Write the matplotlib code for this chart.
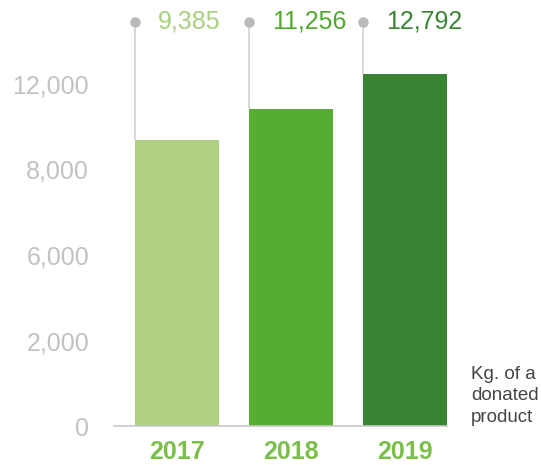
import numpy as np
import matplotlib
matplotlib.use("Agg")
import matplotlib.pyplot as plt

plt.rcParams['font.family'] = ['Liberation Sans', 'DejaVu Sans']

# data
years = ["2017", "2018", "2019"]
values = [9385, 11256, 12792]
value_labels = ["9,385", "11,256", "12,792"]
# bar heights in axis "levels" (one level = one gridstep as drawn)
bar_levels = [3.345, 3.71, 4.12]
tick_levels = [0, 1, 2, 3, 4]
tick_labels = ["0", "2,000", "6,000", "8,000", "12,000"]
bar_colors = ["#b0d084", "#56ad30", "#398434"]
label_colors = ["#a9cf80", "#4faa2e", "#3a8535"]

step = 85.5  # px per level
fig = plt.figure(figsize=(5.41, 4.65), dpi=100)
ax = fig.add_axes([114 / 541, 39 / 465, 333 / 541, 4.9 * step / 465])

x = np.arange(len(years))
width = 84 / 114
ax.bar(x, bar_levels, width=width, color=bar_colors, zorder=2)

# leader lines + dots at the left edge of every bar
dot_level = (426 - 22) / step
left_edges = x - width / 2
ax.vlines(left_edges, bar_levels, dot_level, color="#d2d2d2", lw=1.2, zorder=1)
ax.plot(left_edges, [dot_level] * len(x), 'o', ms=6.5, color="#bababa",
        clip_on=False, zorder=3)
for xe, lab, c in zip(left_edges, value_labels, label_colors):
    ax.text(xe + 0.2, dot_level, lab, color=c, fontsize=18,
            ha='left', va='center', clip_on=False)

ax.set_xlim(-0.5526, 2.368)
ax.set_ylim(0, 4.9)
ax.set_yticks(tick_levels)
ax.set_yticklabels(tick_labels)
ax.set_xticks(x)
ax.set_xticklabels(years, fontweight='bold')

ax.tick_params(axis='y', length=0, pad=18, labelsize=18, labelcolor="#c2c2c2")
ax.tick_params(axis='x', length=0, pad=10, labelsize=18, labelcolor="#7bbf4a")

for s in ['top', 'right', 'left']:
    ax.spines[s].set_visible(False)
ax.spines['bottom'].set_color("#c8c8c8")
ax.spines['bottom'].set_linewidth(1.2)

fig.text(471 / 541, 1 - 396 / 465, "Kg. of a\ndonated\nproduct",
         fontsize=13.5, color="#444444", ha='left', va='center',
         linespacing=1.35)

fig.savefig("out.png", dpi=100)
